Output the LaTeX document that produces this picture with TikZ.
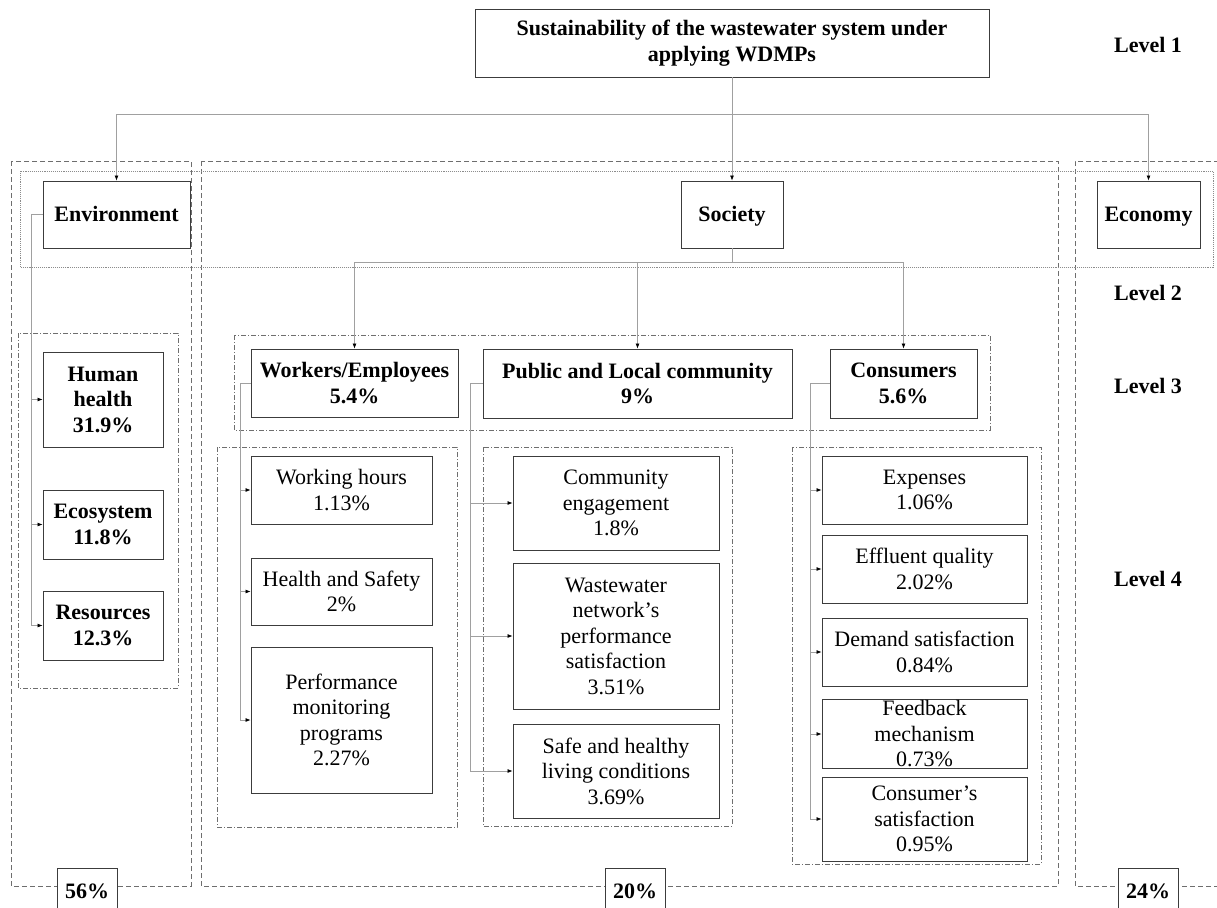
\documentclass[tikz,border=0pt]{standalone}
\usepackage{fontspec}
\setmainfont{Liberation Serif}
\usepackage{tikz}
\usetikzlibrary{arrows.meta}

\definecolor{boxgray}{HTML}{3C3C3C}
\definecolor{linegray}{HTML}{A0A0A0}
\definecolor{dashgray}{HTML}{6E6E6E}
\definecolor{dotgray}{HTML}{8C8C8C}

\tikzset{
  box/.style={draw=boxgray, line width=0.9pt, fill=white, align=center, inner sep=1pt},
  bbox/.style={box, font=\bfseries},
  pillar/.style={bbox, text height=16pt, text depth=3pt},
  wire/.style={draw=linegray, line width=0.7pt},
  conn/.style={wire, -{Latex[length=5pt,width=4pt,color=black]}},
  colframe/.style={draw=dashgray, line width=0.8pt, dash pattern=on 5pt off 3pt},
  grpframe/.style={draw=dashgray, line width=0.6pt, dash pattern=on 5pt off 2pt on 1pt off 2pt},
  bandframe/.style={draw=dotgray, line width=0.9pt, densely dotted},
  lvl/.style={font=\bfseries}
}

\begin{document}
\begin{tikzpicture}[x=1pt, y=-1pt]
\fontsize{22}{25.5}\selectfont
\useasboundingbox (0,0) rectangle (1217,907);

% column frames (level 1 shares)
\draw[colframe] (11,161) rectangle (191,886);
\draw[colframe] (201,161) rectangle (1058,886);
\draw[colframe] (1235,161) -- (1075,161) -- (1075,886) -- (1235,886);
\draw[bandframe] (20,171) rectangle (1213,267);
% group frames
\draw[grpframe] (18,333) rectangle (178,688);
\draw[grpframe] (234,335) rectangle (990,430);
\draw[grpframe] (217,447) rectangle (457,827);
\draw[grpframe] (483,447) rectangle (732,826);
\draw[grpframe] (792,447) rectangle (1041,864);

% level 1
\node[bbox, minimum width=514, minimum height=68] (goal) at (732,43) {Sustainability of the wastewater system under\\applying WDMPs};

% level 2
\node[pillar, minimum width=147, minimum height=67] (env) at (116.5,214.5) {Environment};
\node[pillar, minimum width=102, minimum height=67] (soc) at (732,214.5) {Society};
\node[pillar, minimum width=103, minimum height=67] (eco) at (1148.5,214.5) {Economy};

% level 3
\node[bbox, minimum width=120, minimum height=95] (health) at (103,399.5) {Human\\health\\31.9\%};
\node[bbox, minimum width=120, minimum height=69] (ecosys) at (103,524.5) {Ecosystem\\11.8\%};
\node[bbox, minimum width=120, minimum height=69] (res) at (103,625.5) {Resources\\12.3\%};
\node[bbox, minimum width=207, minimum height=68] (work) at (354.5,383) {Workers/Employees\\5.4\%};
\node[bbox, minimum width=309, minimum height=69] (pub) at (637.5,383.5) {Public and Local community\\9\%};
\node[bbox, minimum width=147, minimum height=69] (cons) at (903.5,383.5) {Consumers\\5.6\%};

% level 4
\node[box, minimum width=181, minimum height=68] (hours) at (341.5,490) {Working hours\\1.13\%};
\node[box, minimum width=181, minimum height=67] (hs) at (341.5,591.5) {Health and Safety\\2\%};
\node[box, minimum width=181, minimum height=146] (perf) at (341.5,720) {Performance\\monitoring\\programs\\2.27\%};
\node[box, minimum width=206, minimum height=94] (engage) at (616,503) {Community\\engagement\\1.8\%};
\node[box, minimum width=206, minimum height=146] (netw) at (616,636) {Wastewater\\network’s\\performance\\satisfaction\\3.51\%};
\node[box, minimum width=206, minimum height=94] (living) at (616,771) {Safe and healthy\\living conditions\\3.69\%};
\node[box, minimum width=205, minimum height=68] (exp) at (924.5,490) {Expenses\\1.06\%};
\node[box, minimum width=205, minimum height=68] (eff) at (924.5,569) {Effluent quality\\2.02\%};
\node[box, minimum width=205, minimum height=68] (dem) at (924.5,652) {Demand satisfaction\\0.84\%};
\node[box, minimum width=205, minimum height=68] (fb) at (924.5,734) {Feedback\\mechanism\\0.73\%};
\node[box, minimum width=205, minimum height=84] (csat) at (924.5,819) {Consumer’s\\satisfaction\\0.95\%};

% shares
\node[bbox, minimum width=60, minimum height=46] (envsh) at (87,891) {56\%};
\node[bbox, minimum width=60, minimum height=46] (socsh) at (635,891) {20\%};
\node[bbox, minimum width=60, minimum height=46] (ecosh) at (1148,891) {24\%};

% level labels
\node[lvl] (l1) at (1148,45) {Level 1};
\node[lvl] (l2) at (1148,293) {Level 2};
\node[lvl] (l3) at (1148,386) {Level 3};
\node[lvl] (l4) at (1148,579) {Level 4};

% connectors
\coordinate (j1) at (732,114);
\draw[conn] (goal) -- (soc);
\draw[conn] (j1) -| (env.north);
\draw[conn] (j1) -| (eco.north);

\coordinate (j2) at (732,262);
\draw[wire] (soc) -- (j2);
\draw[conn] (j2) -| (work.north);
\draw[conn] (j2) -| (pub.north);
\draw[conn] (j2) -| (cons.north);

\coordinate (e0) at (31,0);
\draw[conn] (env.west) -| (e0 |- res.west) -- (res.west);
\draw[conn] (e0 |- health.west) -- (health.west);
\draw[conn] (e0 |- ecosys.west) -- (ecosys.west);

\coordinate (w0) at (240,0);
\draw[conn] (work.west) -| (w0 |- perf.west) -- (perf.west);
\draw[conn] (w0 |- hours.west) -- (hours.west);
\draw[conn] (w0 |- hs.west) -- (hs.west);

\coordinate (p0) at (470,0);
\draw[conn] (pub.west) -| (p0 |- living.west) -- (living.west);
\draw[conn] (p0 |- engage.west) -- (engage.west);
\draw[conn] (p0 |- netw.west) -- (netw.west);

\coordinate (c0) at (810,0);
\draw[conn] (cons.west) -| (c0 |- csat.west) -- (csat.west);
\draw[conn] (c0 |- exp.west) -- (exp.west);
\draw[conn] (c0 |- eff.west) -- (eff.west);
\draw[conn] (c0 |- dem.west) -- (dem.west);
\draw[conn] (c0 |- fb.west) -- (fb.west);
\end{tikzpicture}
\end{document}
